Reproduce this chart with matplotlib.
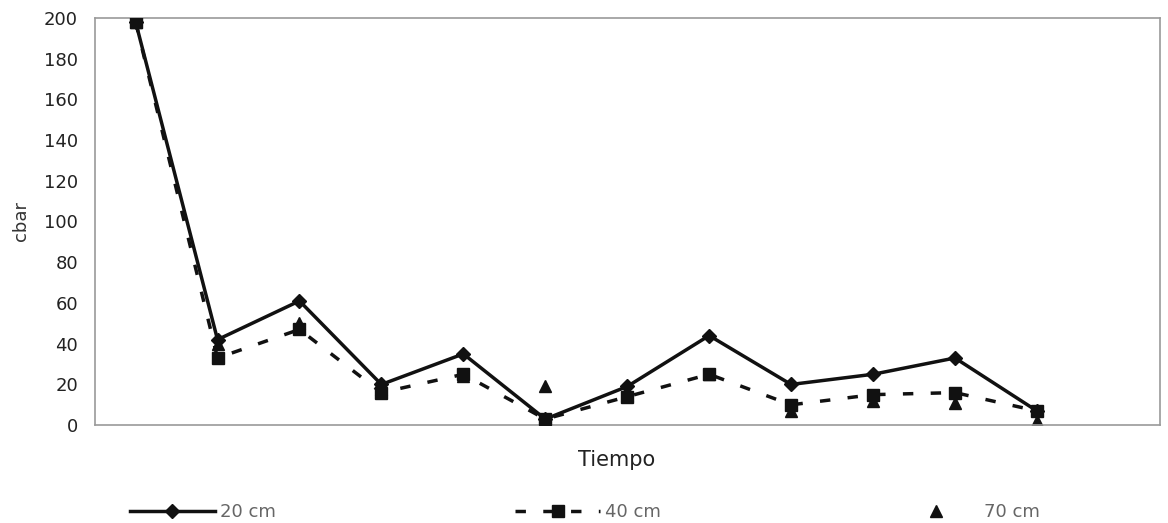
import matplotlib
matplotlib.use("Agg")
import matplotlib.pyplot as plt

# categories (13 slots on the time axis, last one empty)
n_slots = 13
pos = list(range(12))

cm20 = [198, 42, 61, 20, 35, 3, 19, 44, 20, 25, 33, 7]
cm40 = [198, 33, 47, 16, 25, 3, 14, 25, 10, 15, 16, 7]
cm70 = [198, 40, 50, 18, 24, 19, 15, 25, 7, 12, 11, 2]

yticks = list(range(0, 201, 20))


def main():
    plt.rcParams['font.family'] = ['DejaVu Sans']
    fig = plt.figure(figsize=(11.68, 5.23), dpi=100)
    ax = fig.add_axes([0.081, 0.187, 0.912, 0.779])

    l70, = ax.plot(pos, cm70, linestyle='none', marker='^', markersize=9,
                   color='#111111', label='70 cm', zorder=2)
    l40, = ax.plot(pos, cm40, linestyle=(0, (3, 5)), linewidth=2.5,
                   marker='s', markersize=9, color='#111111', label='40 cm',
                   zorder=3)
    l20, = ax.plot(pos, cm20, linestyle='-', linewidth=2.5, marker='D',
                   markersize=7, color='#111111', label='20 cm', zorder=4)

    ax.set_xlim(-0.5, n_slots - 0.5)
    ax.set_ylim(0, 200)
    ax.set_yticks(yticks)
    ax.set_xticks([])
    ax.tick_params(axis='y', length=0, labelsize=13, labelcolor='#222222',
                   pad=12)
    for s in ax.spines.values():
        s.set_color('#9a9a9a')
        s.set_linewidth(1.2)

    ax.set_ylabel('cbar', fontsize=13, color='#333333', labelpad=10)
    ax.set_xlabel('Tiempo', fontsize=15, color='#222222', labelpad=18,
                  x=0.49)

    # three separate legend entries spread along the bottom
    for h, x in [(l20, 0.111), (l40, 0.441), (l70, 0.765)]:
        fig.legend([h], [h.get_label()], loc='center left',
                   bbox_to_anchor=(x, 0.021), frameon=False, fontsize=13,
                   labelcolor='#666666', handlelength=4.7, handletextpad=0.3,
                   borderpad=0, borderaxespad=0)

    plt.savefig("out.png", dpi=100)


if __name__ == "__main__":
    main()
